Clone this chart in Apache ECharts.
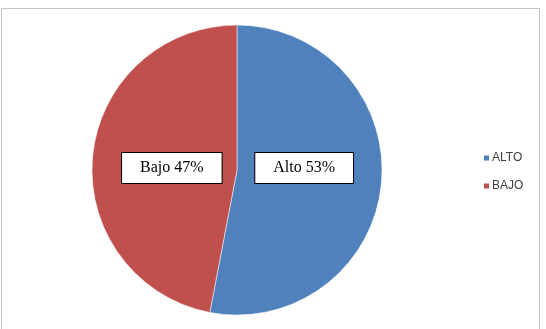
<!DOCTYPE html>
<html>
<head>
<meta charset="utf-8">
<script src="https://cdn.jsdelivr.net/npm/echarts@6/dist/echarts.min.js"></script>
<style>
html,body{margin:0;padding:0;background:#fff;}
#frame{position:absolute;left:1px;top:8px;width:539px;height:340px;border:1px solid #c4c4c4;box-sizing:border-box;}
#chart{position:absolute;left:0;top:0;width:546px;height:329px;}
</style>
</head>
<body>
<div id="frame"></div>
<div id="chart"></div>
<script>
const categories = ['ALTO', 'BAJO'];
const values = [53, 47];
const labelTexts = ['Alto 53%', 'Bajo 47%'];
const colors = ['#4F81BD', '#C0504D'];

const chart = echarts.init(document.getElementById('chart'));
chart.setOption({
  animation: false,
  color: colors,
  legend: {
    orient: 'vertical',
    left: 482,
    top: 152,
    padding: 0,
    itemWidth: 7,
    itemHeight: 7,
    itemGap: 16,
    icon: 'rect',
    textStyle: { fontFamily: 'Liberation Sans', fontSize: 12, color: '#404040', padding: [0,0,0,-3] },
    data: categories
  },
  series: [{
    type: 'pie',
    center: [237, 170],
    radius: [0, 145],
    startAngle: 90,
    clockwise: true,
    itemStyle: { borderColor: '#ffffff', borderWidth: 0.5 },
    label: {
      show: true,
      position: 'inside',
      fontFamily: 'Liberation Serif',
      fontSize: 16,
      color: '#000',
      backgroundColor: '#fff',
      borderColor: '#000',
      borderWidth: 1,
      padding: [7, 18, 7, 18],
      formatter: p => labelTexts[p.dataIndex]
    },
    labelLine: { show: false },
    data: categories.map((c, i) => ({
      name: c,
      value: values[i],
      label: { offset: i === 0 ? [-8, -9] : [10, 5] }
    }))
  }]
});
</script>
</body>
</html>
